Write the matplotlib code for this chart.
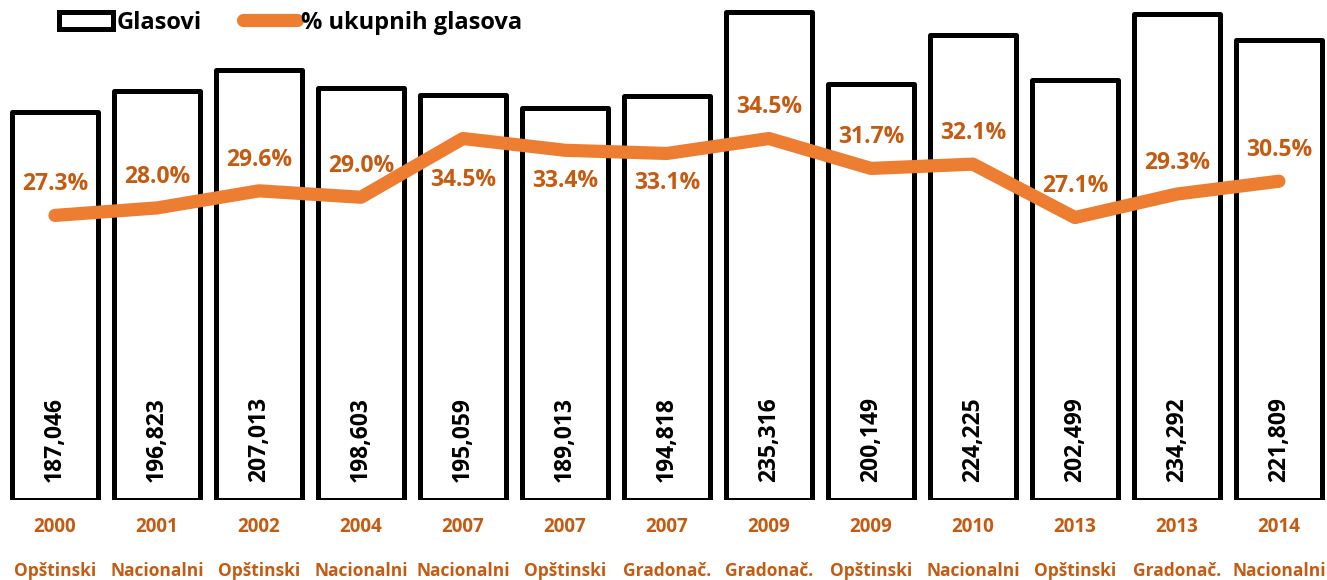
import matplotlib
matplotlib.use("Agg")
import matplotlib.pyplot as plt
from matplotlib.patches import Patch
from matplotlib.lines import Line2D

# data
years = ["2000", "2001", "2002", "2004", "2007", "2007", "2007",
         "2009", "2009", "2010", "2013", "2013", "2014"]
types = ["Opštinski", "Nacionalni", "Opštinski", "Nacionalni", "Nacionalni",
         "Opštinski", "Gradonač.", "Gradonač.", "Opštinski", "Nacionalni",
         "Opštinski", "Gradonač.", "Nacionalni"]
votes = [187046, 196823, 207013, 198603, 195059, 189013, 194818,
         235316, 200149, 224225, 202499, 234292, 221809]
share = [27.3, 28.0, 29.6, 29.0, 34.5, 33.4, 33.1,
         34.5, 31.7, 32.1, 27.1, 29.3, 30.5]

# vertical offset (points) of each percent label from the line
label_dy = [22.5, 22.5, 22.5, 22.5, -30, -22, -21,
            22.5, 22.5, 22.5, 22.5, 22.5, 22.5]

ORANGE = "#ED7D31"
DARK_ORANGE = "#C55A11"
FONT = "Open Sans"

plt.rcParams["font.family"] = [FONT, "DejaVu Sans"]
plt.rcParams["font.weight"] = "bold"

fig = plt.figure(figsize=(13.27, 5.8), dpi=100)
ax = fig.add_axes([0.003, 0.138, 0.9992, 0.862])
x = list(range(len(votes)))

ax.bar(x, votes, width=0.85, facecolor="white", edgecolor="black",
       linewidth=3.6, joinstyle="round", zorder=1)
ax.set_xlim(-0.5, len(votes) - 0.5)
ax.set_ylim(0, 240857)

for i, v in enumerate(votes):
    ax.annotate(f"{v:,}", xy=(i, 0), xytext=(0, 13), textcoords="offset points",
                rotation=90, ha="center", va="bottom", fontsize=16.5,
                fontweight="bold", color="black", zorder=3)

ax2 = ax.twinx()
ax2.set_ylim(0.655, 47.47)
ax2.plot(x, share, color=ORANGE, linewidth=9.5, solid_capstyle="round",
         solid_joinstyle="round", zorder=2)

for i, s in enumerate(share):
    ax2.annotate(f"{s:.1f}%", xy=(i, s), xytext=(0, label_dy[i]),
                 textcoords="offset points", ha="center", va="center",
                 fontsize=16.5, fontweight="bold", color=DARK_ORANGE, zorder=4)

# two rows of category labels under the bars
for i in x:
    ax.annotate(years[i], xy=(i, 0), xycoords=("data", "axes fraction"),
                xytext=(0, -19.5), textcoords="offset points", ha="center",
                va="center", fontsize=13.5, fontweight="bold", color=DARK_ORANGE,
                annotation_clip=False)
    ax.annotate(types[i], xy=(i, 0), xycoords=("data", "axes fraction"),
                xytext=(0, -51), textcoords="offset points", ha="center",
                va="center", fontsize=12.5, fontweight="bold", color=DARK_ORANGE,
                annotation_clip=False)

for a in (ax, ax2):
    a.set_xticks([])
    a.set_yticks([])
    for sp in a.spines.values():
        sp.set_visible(False)
ax.patch.set_visible(False)

handles = [Patch(facecolor="white", edgecolor="black", linewidth=3.6, joinstyle="round"),
           Line2D([], [], color=ORANGE, linewidth=9.5, solid_capstyle="round")]
leg = fig.legend(handles, ["Glasovi", "% ukupnih glasova"], loc="upper left",
                 bbox_to_anchor=(47 / 1327, 1 + 1 / 580), ncol=2, frameon=False,
                 borderpad=0, handlelength=2.3, handleheight=0.75,
                 handletextpad=0.15, columnspacing=1.75,
                 prop={"family": FONT, "weight": "bold", "size": 17})

fig.savefig("out.png", dpi=100)
